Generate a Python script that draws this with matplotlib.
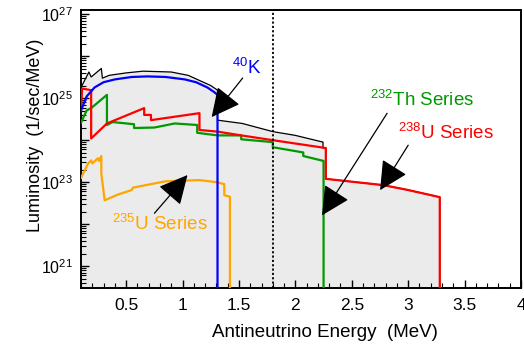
import numpy as np
import matplotlib
matplotlib.use('Agg')
import matplotlib.pyplot as plt
from matplotlib.ticker import MultipleLocator, FuncFormatter, LogLocator

plt.rcParams['font.family'] = ['Liberation Sans', 'DejaVu Sans']
plt.rcParams['mathtext.default'] = 'regular'

# ---- データ (MeV, 1/sec/MeV) ----
k40_e = [0.10, 0.15, 0.22, 0.30, 0.40, 0.55, 0.69, 0.85, 1.02, 1.12, 1.22, 1.28, 1.31, 1.31]
k40_l = [5.1e24, 1.1e25, 1.8e25, 2.4e25, 2.8e25, 3.2e25, 3.3e25, 3.2e25, 2.8e25, 2.4e25,
         1.8e25, 1.4e25, 1.2e25, 0]

u238_e = [0.10, 0.11, 0.19, 0.19, 0.33, 0.66, 0.66, 0.72, 0.72, 1.15, 1.15, 1.31, 1.52,
          1.80, 2.27, 2.27, 2.78, 3.00, 3.28, 3.28]
u238_l = [5.1e24, 1.7e25, 1.55e25, 1.1e24, 2.5e24, 5.8e24, 4.0e24, 4.0e24, 3.0e24, 4.4e24,
          1.75e24, 1.6e24, 1.3e24, 1.0e24, 6.5e23, 1.2e23, 8.5e22, 6.5e22, 4.4e22, 0]

th232_e = [0.10, 0.15, 0.19, 0.33, 0.33, 0.38, 0.57, 0.57, 0.75, 0.93, 1.13, 1.13, 1.31,
           1.52, 1.52, 1.80, 1.80, 2.07, 2.07, 2.25, 2.25]
th232_l = [2.6e24, 5.1e24, 5.8e24, 1.2e25, 2.3e24, 2.7e24, 2.4e24, 1.95e24, 2.0e24, 2.5e24,
           2.3e24, 1.5e24, 1.3e24, 1.3e24, 1.05e24, 9.0e23, 6.8e23, 5.1e23, 4.2e23, 3.2e23, 0]

u235_e = [0.10, 0.16, 0.19, 0.20, 0.25, 0.26, 0.28, 0.28, 0.31, 0.43, 0.55, 0.56, 0.85,
          1.15, 1.30, 1.37, 1.37, 1.42, 1.42]
u235_l = [1.26e23, 2.7e23, 3.3e23, 2.8e23, 3.7e23, 3.2e23, 4.2e23, 1.6e23, 3.7e22, 5.1e22,
          6.5e22, 7.4e22, 1.05e23, 1.12e23, 1.0e23, 9.0e22, 4.9e22, 4.5e22, 0]

total_e = [0.10, 0.17, 0.19, 0.28, 0.29, 0.35, 0.50, 0.65, 0.90, 1.05, 1.17, 1.25, 1.31,
           1.31, 1.53, 1.80, 2.00, 2.245, 2.245, 2.27, 2.27, 2.78, 3.00, 3.28, 3.28]
total_l = [1.8e25, 4.2e25, 3.2e25, 5.1e25, 3.0e25, 3.5e25, 4.0e25, 4.4e25, 4.2e25, 3.5e25,
           2.5e25, 2.0e25, 1.55e25, 3.0e24, 2.5e24, 1.6e24, 1.3e24, 9.0e23, 6.5e23, 6.5e23,
           1.2e23, 8.5e22, 6.5e22, 4.4e22, 0]

threshold = 1.806  # IBD しきい値

fig = plt.figure(figsize=(5.24, 3.48), dpi=100)
ax = fig.add_axes([81 / 524, 1 - 288 / 348, 440 / 524, 278 / 348])
ax.set_yscale('log', nonpositive='clip')

ax.fill_between(total_e, total_l, 0, color='#ebebeb', lw=0, zorder=1)
ax.plot(total_e, total_l, color='black', lw=0.9, zorder=2)
ax.plot(th232_e, th232_l, color='#009900', lw=1.6, zorder=3)
ax.plot(u238_e, u238_l, color='#ff0000', lw=1.6, zorder=4)
ax.plot(u235_e, u235_l, color='#ffa500', lw=1.6, zorder=4)
ax.plot(k40_e, k40_l, color='#0000ff', lw=1.6, zorder=5)
ax.axvline(threshold, color='black', ls=(0, (1.2, 1.2)), lw=1.3, zorder=6)

ax.set_xlim(0.1, 4.0)
ax.set_ylim(10 ** 20.48, 10 ** 27.1)

# 軸の体裁 (ROOT風)
ax.xaxis.set_major_locator(MultipleLocator(0.5))
ax.xaxis.set_minor_locator(MultipleLocator(0.1))
ax.xaxis.set_major_formatter(FuncFormatter(lambda v, p: '%g' % v))
ax.yaxis.set_major_locator(LogLocator(base=10, numticks=20))
ax.yaxis.set_minor_locator(LogLocator(base=10, subs=np.arange(2, 10), numticks=20))
ax.yaxis.set_major_formatter(FuncFormatter(
    lambda v, p: '$10^{%d}$' % round(np.log10(v)) if round(np.log10(v)) % 2 == 1 else ''))
ax.tick_params(which='both', direction='in', top=False, right=False)
ax.tick_params(which='major', length=6, width=1)
ax.tick_params(which='minor', length=3.5, width=0.8)
ax.tick_params(axis='x', labelsize=12.5, pad=7)
ax.tick_params(axis='y', labelsize=11.5, pad=6)
for s in ax.spines.values():
    s.set_linewidth(1.4)

ax.set_xlabel('Antineutrino Energy  (MeV)', fontsize=13.5)
ax.xaxis.set_label_coords(0.555, -0.13)
ax.set_ylabel('Luminosity  (1/sec/MeV)', fontsize=13)
ax.yaxis.set_label_coords(-0.085, 0.55)

# ラベルと矢印
arrow = dict(arrowstyle='-|>,head_length=0.9,head_width=0.45', color='black',
             lw=0.9, mutation_scale=20, shrinkA=0, shrinkB=0)
ax.text(1.57, 10 ** 25.71, '$^{40}$K', color='#0000ff', fontsize=13.5, ha='center', va='center')
ax.annotate('', xy=(1.258, 10 ** 24.55), xytext=(1.533, 10 ** 25.48), arrowprops=arrow, zorder=7)

ax.text(0.80, 10 ** 22.0, '$^{235}$U Series', color='#ffa500', fontsize=13.5, ha='center', va='center')
ax.annotate('', xy=(1.044, 10 ** 23.17), xytext=(0.751, 10 ** 22.26), arrowprops=arrow, zorder=7)

ax.text(3.12, 10 ** 24.95, '$^{232}$Th Series', color='#009900', fontsize=13.5, ha='center', va='center')
ax.annotate('', xy=(2.236, 10 ** 22.21), xytext=(2.813, 10 ** 24.64), arrowprops=arrow, zorder=7)

ax.text(3.33, 10 ** 24.17, '$^{238}$U Series', color='#ff0000', fontsize=13.5, ha='center', va='center')
ax.annotate('', xy=(2.751, 10 ** 22.81), xytext=(3.0, 10 ** 23.88), arrowprops=arrow, zorder=7)

fig.savefig('out.png', dpi=100)
